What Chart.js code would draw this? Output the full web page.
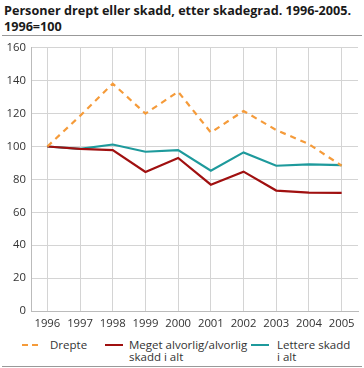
<!DOCTYPE html>
<html>
<head>
<meta charset="utf-8">
<script src="https://cdn.jsdelivr.net/npm/chart.js@4"></script>
<style>
  body { margin: 0; background: #fff; font-family: "Open Sans", sans-serif; }
  #wrap { position: relative; width: 364px; height: 368px; }
  #title { position: absolute; left: 4px; top: 3px; font-size: 13px; font-weight: bold; line-height: 16px; color: #1a1a1a; white-space: nowrap; }
  #topline { position: absolute; left: 2px; right: 2px; top: 35px; height: 1px; background: #999; }
  #botline { position: absolute; left: 2px; right: 2px; top: 366px; height: 1px; background: #999; }
  #chartBox { position: absolute; left: 0; top: 36px; width: 364px; height: 296px; }
  .leg { position: absolute; font-size: 11.5px; line-height: 12px; color: #333; }
  .sw { position: absolute; height: 0; border-top-width: 2px; }
</style>
</head>
<body>
<div id="wrap">
  <div id="title"><span id="t1">Personer drept eller skadd, etter skadegrad. 1996-2005.</span><br>1996=100</div>
  <div id="topline"></div>
  <div id="chartBox"><canvas id="myChart" width="364" height="296"></canvas></div>
  <div id="legend"></div>
  <div id="botline"></div>
</div>
<script>
// data lest av bildet
const years = ['1996', '1997', '1998', '1999', '2000', '2001', '2002', '2003', '2004', '2005'];
const drepte = [100, 118.6, 138.2, 120, 133.3, 108.5, 121.6, 110, 101.4, 88.3];
const megetAlvorlig = [100, 98.5, 97.8, 84.5, 93, 76.8, 84.7, 73.2, 72, 71.8];
const lettere = [100, 98.5, 101.2, 96.8, 97.8, 85.3, 96.4, 88.3, 89.1, 88.7];
const seriesNames = ['Drepte', 'Meget alvorlig/alvorlig\nskadd i alt', 'Lettere skadd\ni alt'];
const colors = ['#f59b3a', '#a01010', '#1e9a9c'];

// tittelen skaleres til omtrent samme bredde som originalen
const title = document.getElementById('title');
const t1 = document.getElementById('t1');
const w = t1.getBoundingClientRect().width;
title.style.fontSize = (13 * 347 / w).toFixed(2) + 'px';

const ctx = document.getElementById('myChart').getContext('2d');

const config = {
  type: 'line',
  data: {
    labels: years,
    datasets: [
      { label: seriesNames[0], data: drepte, borderColor: colors[0], borderDash: [6, 5], borderWidth: 2.2 },
      { label: seriesNames[1], data: megetAlvorlig, borderColor: colors[1], borderWidth: 2.2 },
      { label: seriesNames[2], data: lettere, borderColor: colors[2], borderWidth: 2.2 }
    ]
  },
  options: {
    responsive: false,
    animation: false,
    elements: { point: { radius: 0 }, line: { tension: 0 } },
    layout: { padding: { top: 11, right: 6, left: 0, bottom: 0 } },
    plugins: { legend: { display: false }, tooltip: { enabled: false } },
    scales: {
      x: {
        offset: true,
        grid: { color: '#d4d4d4', offset: false, drawTicks: false },
        border: { color: '#bbbbbb' },
        ticks: { color: '#333', padding: 6, font: { family: 'Open Sans', size: 11.3 } },
        afterFit: s => { s.height = 21; }
      },
      y: {
        min: 0,
        max: 160,
        grid: { color: '#d4d4d4', drawTicks: false },
        border: { color: '#bbbbbb' },
        ticks: { stepSize: 20, color: '#333', padding: 5, font: { family: 'Open Sans', size: 11.3 } },
        afterFit: s => { s.width = 31; }
      }
    }
  }
};

const myChart = new Chart(ctx, config);

// legende som html
const legend = document.getElementById('legend');
const legPos = [[22, 50], [105, 129], [251, 277]];
seriesNames.forEach((name, i) => {
  const sw = document.createElement('div');
  sw.className = 'sw';
  sw.style.left = legPos[i][0] + 'px';
  sw.style.width = (i === 0 ? 16 : 18) + 'px';
  sw.style.top = '344px';
  sw.style.borderTopStyle = i === 0 ? 'dashed' : 'solid';
  sw.style.borderTopColor = colors[i];
  legend.appendChild(sw);
  const t = document.createElement('div');
  t.className = 'leg';
  t.style.left = legPos[i][1] + 'px';
  t.style.top = '339px';
  t.innerHTML = name.replace('\n', '<br>');
  legend.appendChild(t);
});
</script>
</body>
</html>
